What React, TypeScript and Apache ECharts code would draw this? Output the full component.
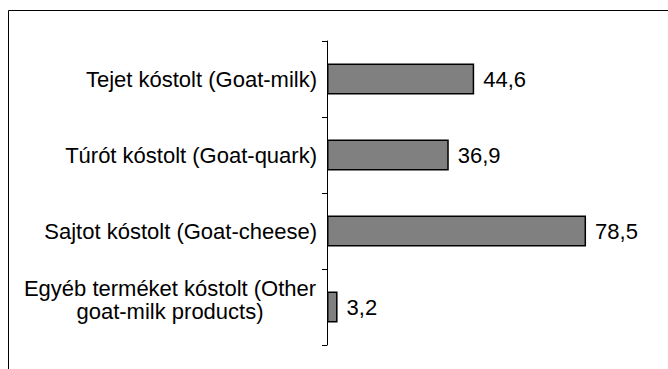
import React, { useEffect, useRef } from "react";
import * as echarts from "echarts";

// Survey categories (top to bottom) and the share of respondents, in %
const categories: string[] = [
  "Tejet kóstolt (Goat-milk)",
  "Túrót kóstolt (Goat-quark)",
  "Sajtot kóstolt (Goat-cheese)",
  "Egyéb terméket kóstolt (Other\ngoat-milk products)",
];
const values: number[] = [44.6, 36.9, 78.5, 3.2];

const FONT = "'Liberation Sans', Arial, sans-serif";
const FS = 22;

export default function App() {
  const ref = useRef<HTMLDivElement>(null);

  useEffect(() => {
    if (!ref.current) return;
    const chart = echarts.init(ref.current, undefined, { renderer: "svg" });
    chart.setOption({
      animation: false,
      backgroundColor: "#ffffff",
      textStyle: { fontFamily: FONT },
      graphic: [
        {
          type: "rect",
          shape: { x: 8.5, y: 10.5, width: 700, height: 400 },
          style: { fill: "none", stroke: "#000", lineWidth: 1 },
          silent: true,
        },
      ],
      grid: { left: 327, top: 41, width: 330, height: 304, containLabel: false },
      xAxis: {
        type: "value",
        min: 0,
        max: 100,
        show: false,
      },
      yAxis: {
        type: "category",
        inverse: true,
        data: categories.map((c) =>
          c.indexOf("\n") >= 0
            ? { value: c, textStyle: { padding: [0, 0, 14, 0] } }
            : c
        ),
        axisLine: { show: true, lineStyle: { color: "#000", width: 1 } },
        axisTick: { show: true, length: 5, lineStyle: { color: "#000" } },
        splitLine: { show: false },
        axisLabel: {
          margin: 10,
          fontSize: FS,
          color: "#000",
          fontFamily: FONT,
          lineHeight: 23,
          formatter: (v: string) => (v.indexOf("\n") >= 0 ? `{c|${v}}` : v),
          rich: {
            c: {
              width: 294,
              align: "center",
              fontSize: FS,
              lineHeight: 23,
              color: "#000",
              fontFamily: FONT,
            },
          },
        },
      },
      series: [
        {
          type: "bar",
          data: values,
          barCategoryGap: "59%",
          itemStyle: { color: "#808080", borderColor: "#000", borderWidth: 1.5 },
          label: {
            show: true,
            position: "right",
            distance: 9,
            fontSize: FS,
            color: "#000",
            fontFamily: FONT,
            formatter: (p: any) => Number(p.value).toFixed(1).replace(".", ","),
          },
        },
      ],
    });
    return () => chart.dispose();
  }, []);

  return (
    <div
      ref={ref}
      style={{ position: "absolute", left: 0, top: 0, width: 668, height: 369 }}
    />
  );
}
